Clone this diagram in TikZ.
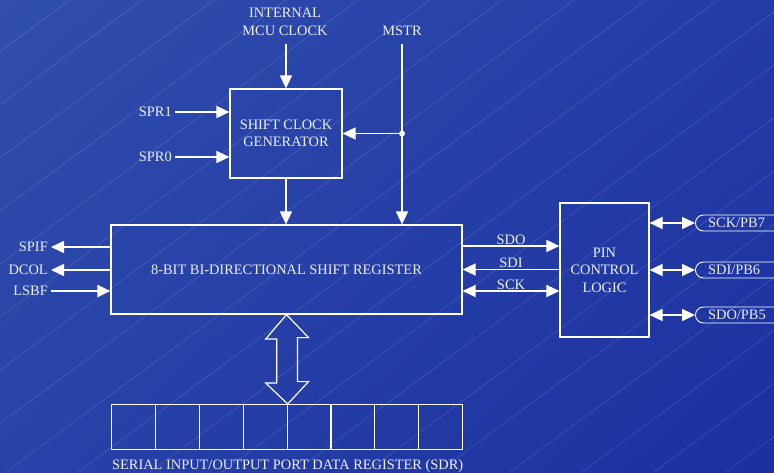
\documentclass[tikz,border=0pt]{standalone}
\usepackage{fontspec}
\setmainfont{Liberation Serif}
\usetikzlibrary{arrows.meta, positioning, shapes.misc, shadings}
\definecolor{bgul}{RGB}{48, 78, 172}
\definecolor{bgur}{RGB}{36, 60, 166}
\definecolor{bgll}{RGB}{40, 66, 168}
\definecolor{bglr}{RGB}{28, 48, 160}
\definecolor{labeltext}{RGB}{236, 238, 248}
\tikzset{
  block/.style={rectangle, draw=white, line width=1.2pt, text=labeltext, align=center, inner sep=0pt},
  sig/.style={text=labeltext, inner sep=3pt, align=center},
  cell/.style={rectangle, draw=white, line width=1.2pt, minimum width=43.875pt, minimum height=45pt, inner sep=0pt},
  pinpill/.style={rounded rectangle, rounded rectangle right arc=none, draw=white, line width=0.9pt, text=labeltext, text width=70pt, align=left, inner xsep=10pt, inner ysep=0pt, minimum height=16pt, text height=10pt, text depth=2pt},
  arr/.style={-{Triangle[length=13pt,width=12pt]}, line width=1.6pt, white},
  dblarr/.style={{Triangle[length=13pt,width=12pt]}-{Triangle[length=13pt,width=12pt]}, line width=1.6pt, white},
  bus/.style={draw=white, line width=1.2pt, line join=miter},
  streak/.style={white, opacity=0.2, line width=0.4pt}
}

\begin{document}
\begin{tikzpicture}[x=1pt, y=-1pt, font=\fontsize{14.4pt}{17.5pt}\selectfont]

  \clip (0,0) rectangle (774,472);
  \shade[upper left=bgul, upper right=bgur, lower left=bgll, lower right=bglr] (0,0) rectangle (774,472);
  \foreach \s in {-2,70,...,1440}
    \draw[streak] (\s,0) -- ++(-640,472);

  \node[block, minimum width=112pt, minimum height=89pt] (scg) at (286,133.5) {SHIFT CLOCK\\GENERATOR};
  \node[block, minimum width=351pt, minimum height=89pt] (sr)  at (286.5,269.5) {8-BIT BI-DIRECTIONAL SHIFT REGISTER};
  \node[block, minimum width=89pt,  minimum height=134pt, text depth=0pt] (pcl) at (604.5,270) {PIN\\CONTROL\\LOGIC};

  \node[sig] (mcuclk) at (285,22) {INTERNAL\\MCU CLOCK};
  \node[sig] (mstr)   at (402,31) {MSTR};
  \node[sig, anchor=east] (spr1) at (175,112) {SPR1};
  \node[sig, anchor=east] (spr0) at (175,157) {SPR0};
  \node[sig, anchor=east] (spif) at (51,247) {SPIF};
  \node[sig, anchor=east] (dcol) at (51,270) {DCOL};
  \node[sig, anchor=east] (lsbf) at (51,291) {LSBF};

  \node[pinpill, anchor=west] (pb7) at (695,223) {SCK/PB7};
  \node[pinpill, anchor=west] (pb6) at (695,270) {SDI/PB6};
  \node[pinpill, anchor=west] (pb5) at (695,315) {SDO/PB5};

  \foreach \i in {1,...,8}
    \node[cell, anchor=north west] (c\i) at ({111+(\i-1)*43.875},404) {};
  \node[sig, below=6pt of c4.south east] (sdrlabel) {SERIAL INPUT/OUTPUT PORT DATA REGISTER (SDR)};

  \draw[arr, shorten <=5pt] (scg.north |- mcuclk.south) -- (scg.north);
  \draw[arr] (spr1.east) -- (spr1.east -| scg.west);
  \draw[arr] (spr0.east) -- (spr0.east -| scg.west);
  \draw[arr, shorten <=5pt] (mstr.south) -- (mstr.south |- sr.north);
  \coordinate (mj) at (mstr.south |- scg.east);
  \fill[white] (mj) circle (3pt);
  \draw[arr] (mj) -- (scg.east);
  \draw[arr] (scg.south) -- (scg.south |- sr.north);

  \draw[arr] (sr.west |- spif.east) -- (spif.east);
  \draw[arr] (sr.west |- dcol.east) -- (dcol.east);
  \draw[arr] (lsbf.east) -- (lsbf.east -| sr.west);

  \draw[arr] ([yshift=23.5pt]sr.east) -- ([yshift=23.5pt]sr.east -| pcl.west)
    node[midway, above, sig, inner sep=1pt] {SDO};
  \draw[arr] (pcl.west |- sr.east) -- (sr.east)
    node[midway, above, sig, inner sep=1pt] {SDI};
  \draw[dblarr] ([yshift=-21.5pt]sr.east) -- ([yshift=-21.5pt]sr.east -| pcl.west)
    node[midway, above, sig, inner sep=1pt] {SCK};

  \draw[dblarr] (pcl.east |- pb7) -- (pb7.west);
  \draw[dblarr] (pcl.east |- pb6) -- (pb6.west);
  \draw[dblarr] (pcl.east |- pb5) -- (pb5.west);

  \draw[bus] (sr.south) -- ++(22,23) -- ++(-11,0) -- ++(0,44) -- ++(11,0) -- (c4.north east)
    -- ++(-22,-21) -- ++(11,0) -- ++(0,-44) -- ++(-11,0) -- cycle;

\end{tikzpicture}
\end{document}
